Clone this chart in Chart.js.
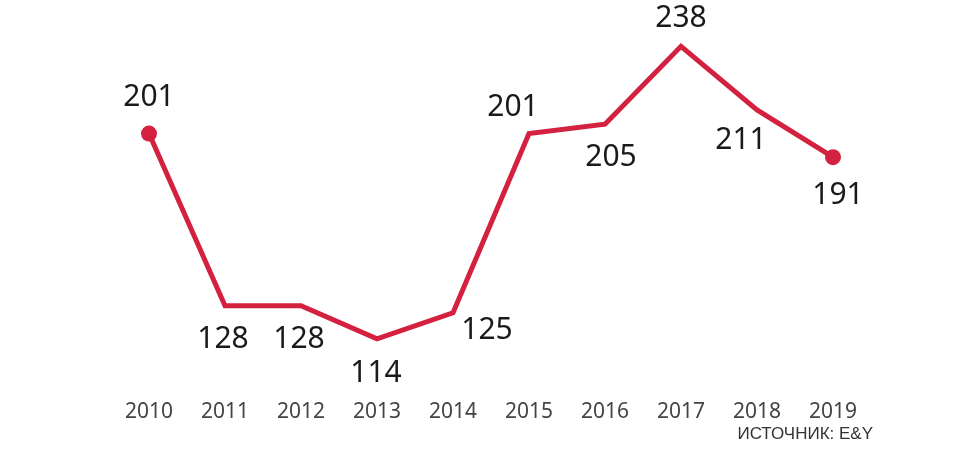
<!DOCTYPE html>
<html>
<head>
<meta charset="utf-8">
<script src="https://cdn.jsdelivr.net/npm/chart.js"></script>
<style>
  html, body { margin: 0; padding: 0; background: #fff; }
  #wrap { width: 973px; height: 459px; position: relative; }
</style>
</head>
<body>
<div id="wrap"><canvas id="chart"></canvas></div>
<script>
const years = ['2010', '2011', '2012', '2013', '2014', '2015', '2016', '2017', '2018', '2019'];
const deals = [201, 128, 128, 114, 125, 201, 205, 238, 211, 191];
const titleText = 'M&A В РОССИИ';
const sourceText = 'ИСТОЧНИК: E&Y';

const red = '#d3213f';

// where each value label sits relative to its point
const labelOffsets = [
  [0, -36], [-2, 34], [-2, 34], [-1, 35], [34, 18],
  [-16, -26], [6, 33], [0, -28], [-16, 30], [5, 38]
];

const labelPlugin = {
  id: 'labels',
  afterDatasetsDraw(chart) {
    const ctx = chart.ctx;
    const meta = chart.getDatasetMeta(0);
    ctx.save();
    ctx.fillStyle = '#1a1a1a';
    ctx.font = '30px "Noto Sans", sans-serif';
    ctx.textAlign = 'center';
    ctx.textBaseline = 'middle';
    meta.data.forEach((pt, i) => {
      const [dx, dy] = labelOffsets[i];
      ctx.fillText(String(deals[i]), pt.x + dx, pt.y + dy);
    });

    ctx.fillStyle = '#333';
    ctx.font = '17px "Liberation Sans Narrow", "Liberation Sans", sans-serif';
    ctx.textAlign = 'right';
    ctx.textBaseline = 'middle';
    ctx.fillText(sourceText, 873, 434);

    // title sits above the visible area, only its lower edge shows
    ctx.fillStyle = '#222';
    ctx.font = 'bold 36px "Noto Sans", sans-serif';
    ctx.textAlign = 'left';
    ctx.textBaseline = 'alphabetic';
    ctx.fillText(titleText, 100, 0);
    ctx.restore();
  }
};

new Chart(document.getElementById('chart'), {
  type: 'line',
  data: {
    labels: years,
    datasets: [{
      data: deals,
      borderColor: red,
      backgroundColor: red,
      borderWidth: 5,
      tension: 0,
      pointRadius: deals.map((_, i) => (i === 0 || i === deals.length - 1) ? 8 : 0),
      pointBorderWidth: 0,
      pointBackgroundColor: red
    }]
  },
  options: {
    responsive: true,
    maintainAspectRatio: false,
    animation: false,
    layout: { padding: { left: 149, right: 140, top: 18, bottom: 6 } },
    plugins: { legend: { display: false }, tooltip: { enabled: false } },
    scales: {
      x: {
        offset: false,
        grid: { display: false, drawTicks: false },
        border: { display: false },
        ticks: {
          color: '#444',
          font: { family: '"Noto Sans", sans-serif', size: 21 },
          padding: 28,
          maxRotation: 0
        }
      },
      y: {
        display: false,
        min: 100,
        max: 250
      }
    }
  },
  plugins: [labelPlugin]
});
</script>
</body>
</html>
